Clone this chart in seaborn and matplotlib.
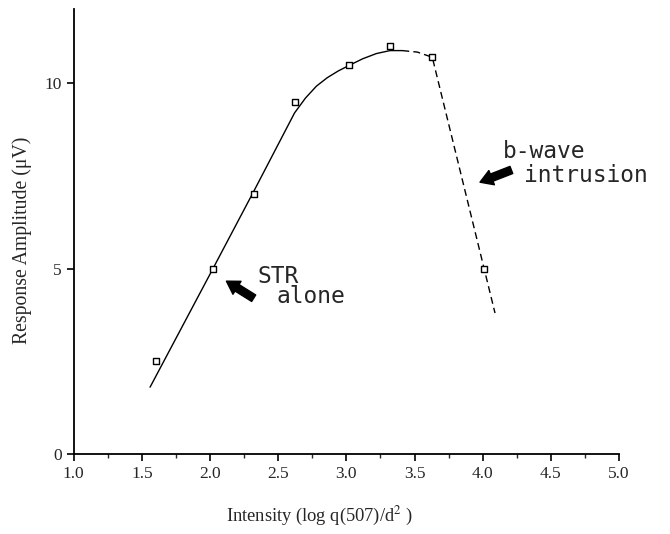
import matplotlib
matplotlib.use("Agg")
import matplotlib.pyplot as plt
from matplotlib.ticker import MultipleLocator
import seaborn as sns
import pandas as pd

# measured points (open squares)
intensity = [1.60, 2.02, 2.32, 2.62, 3.02, 3.32, 3.63, 4.01]
amplitude = [2.5, 5.0, 7.0, 9.5, 10.5, 11.0, 10.7, 5.0]

# hand-drawn fit, solid part (STR alone)
fit_x = [1.56, 2.00, 2.33, 2.62, 2.70, 2.78, 2.86, 2.94, 3.02, 3.12, 3.22, 3.32, 3.41]
fit_y = [1.80, 4.85, 7.15, 9.20, 9.60, 9.92, 10.15, 10.33, 10.48, 10.66, 10.80, 10.88, 10.88]

# dashed part (b-wave intrusion)
dash_x = [3.41, 3.52, 3.63, 4.09]
dash_y = [10.88, 10.84, 10.70, 3.80]

pts = pd.DataFrame({"x": intensity, "y": amplitude})
fit = pd.DataFrame({"x": fit_x, "y": fit_y})
dash = pd.DataFrame({"x": dash_x, "y": dash_y})

sns.set_style("ticks")
plt.rcParams["font.family"] = ["Liberation Serif", "DejaVu Serif"]
plt.rcParams["mathtext.fontset"] = "stix"

fig = plt.figure(figsize=(6.7, 5.34), dpi=100)
ax = fig.add_axes([0.110, 0.150, 0.814, 0.833])

sns.lineplot(data=fit, x="x", y="y", ax=ax, color="black", lw=1.0, sort=False)
sns.lineplot(data=dash, x="x", y="y", ax=ax, color="black", lw=1.0, sort=False,
             linestyle=(0, (5, 3)))
sns.scatterplot(data=pts, x="x", y="y", ax=ax, marker="s", s=22,
                facecolor="white", edgecolor="black", linewidth=1.0, zorder=5)

ax.set_xlim(1.0, 5.0)
ax.set_ylim(0, 12)
ax.set_xticks([1.0, 1.5, 2.0, 2.5, 3.0, 3.5, 4.0, 4.5, 5.0])
ax.set_xticklabels(["1.0", "1.5", "2.0", "2.5", "3.0", "3.5", "4.0", "4.5", "5.0"])
ax.xaxis.set_minor_locator(MultipleLocator(0.25))
ax.set_yticks([0, 5, 10])
ax.tick_params(axis="both", which="major", direction="out", length=5, width=1.2,
               labelsize=12.5, color="black")
ax.tick_params(axis="x", which="minor", direction="out", length=3, width=1.0)

for side in ["top", "right"]:
    ax.spines[side].set_visible(False)
for side in ["left", "bottom"]:
    ax.spines[side].set_linewidth(1.3)
    ax.spines[side].set_color("black")

ax.set_xlabel("Intensity (log q(507)/d$^{2}$ )", fontsize=13.3)
ax.xaxis.set_label_coords(0.45, -0.115)
ax.set_ylabel("Response Amplitude (\u03bcV)", fontsize=14.2)
ax.yaxis.set_label_coords(-0.077, 0.48)

mono = ["DejaVu Sans Mono"]
ax.text(2.35, 4.61, "STR", family=mono, fontsize=16.5, va="baseline", ha="left")
ax.text(2.49, 4.07, "alone", family=mono, fontsize=16.5, va="baseline", ha="left")
ax.text(4.15, 7.98, "b-wave", family=mono, fontsize=16.5, va="baseline", ha="left")
ax.text(4.30, 7.34, "intrusion", family=mono, fontsize=16.5, va="baseline", ha="left")

arrow = dict(arrowstyle="simple,head_width=1.1,head_length=0.9,tail_width=0.55",
             color="black", shrinkA=0, shrinkB=0)
ax.annotate("", xy=(2.12, 4.66), xytext=(2.32, 4.20), arrowprops=arrow)
ax.annotate("", xy=(3.98, 7.33), xytext=(4.21, 7.66), arrowprops=arrow)

plt.savefig("out.png", dpi=100)
